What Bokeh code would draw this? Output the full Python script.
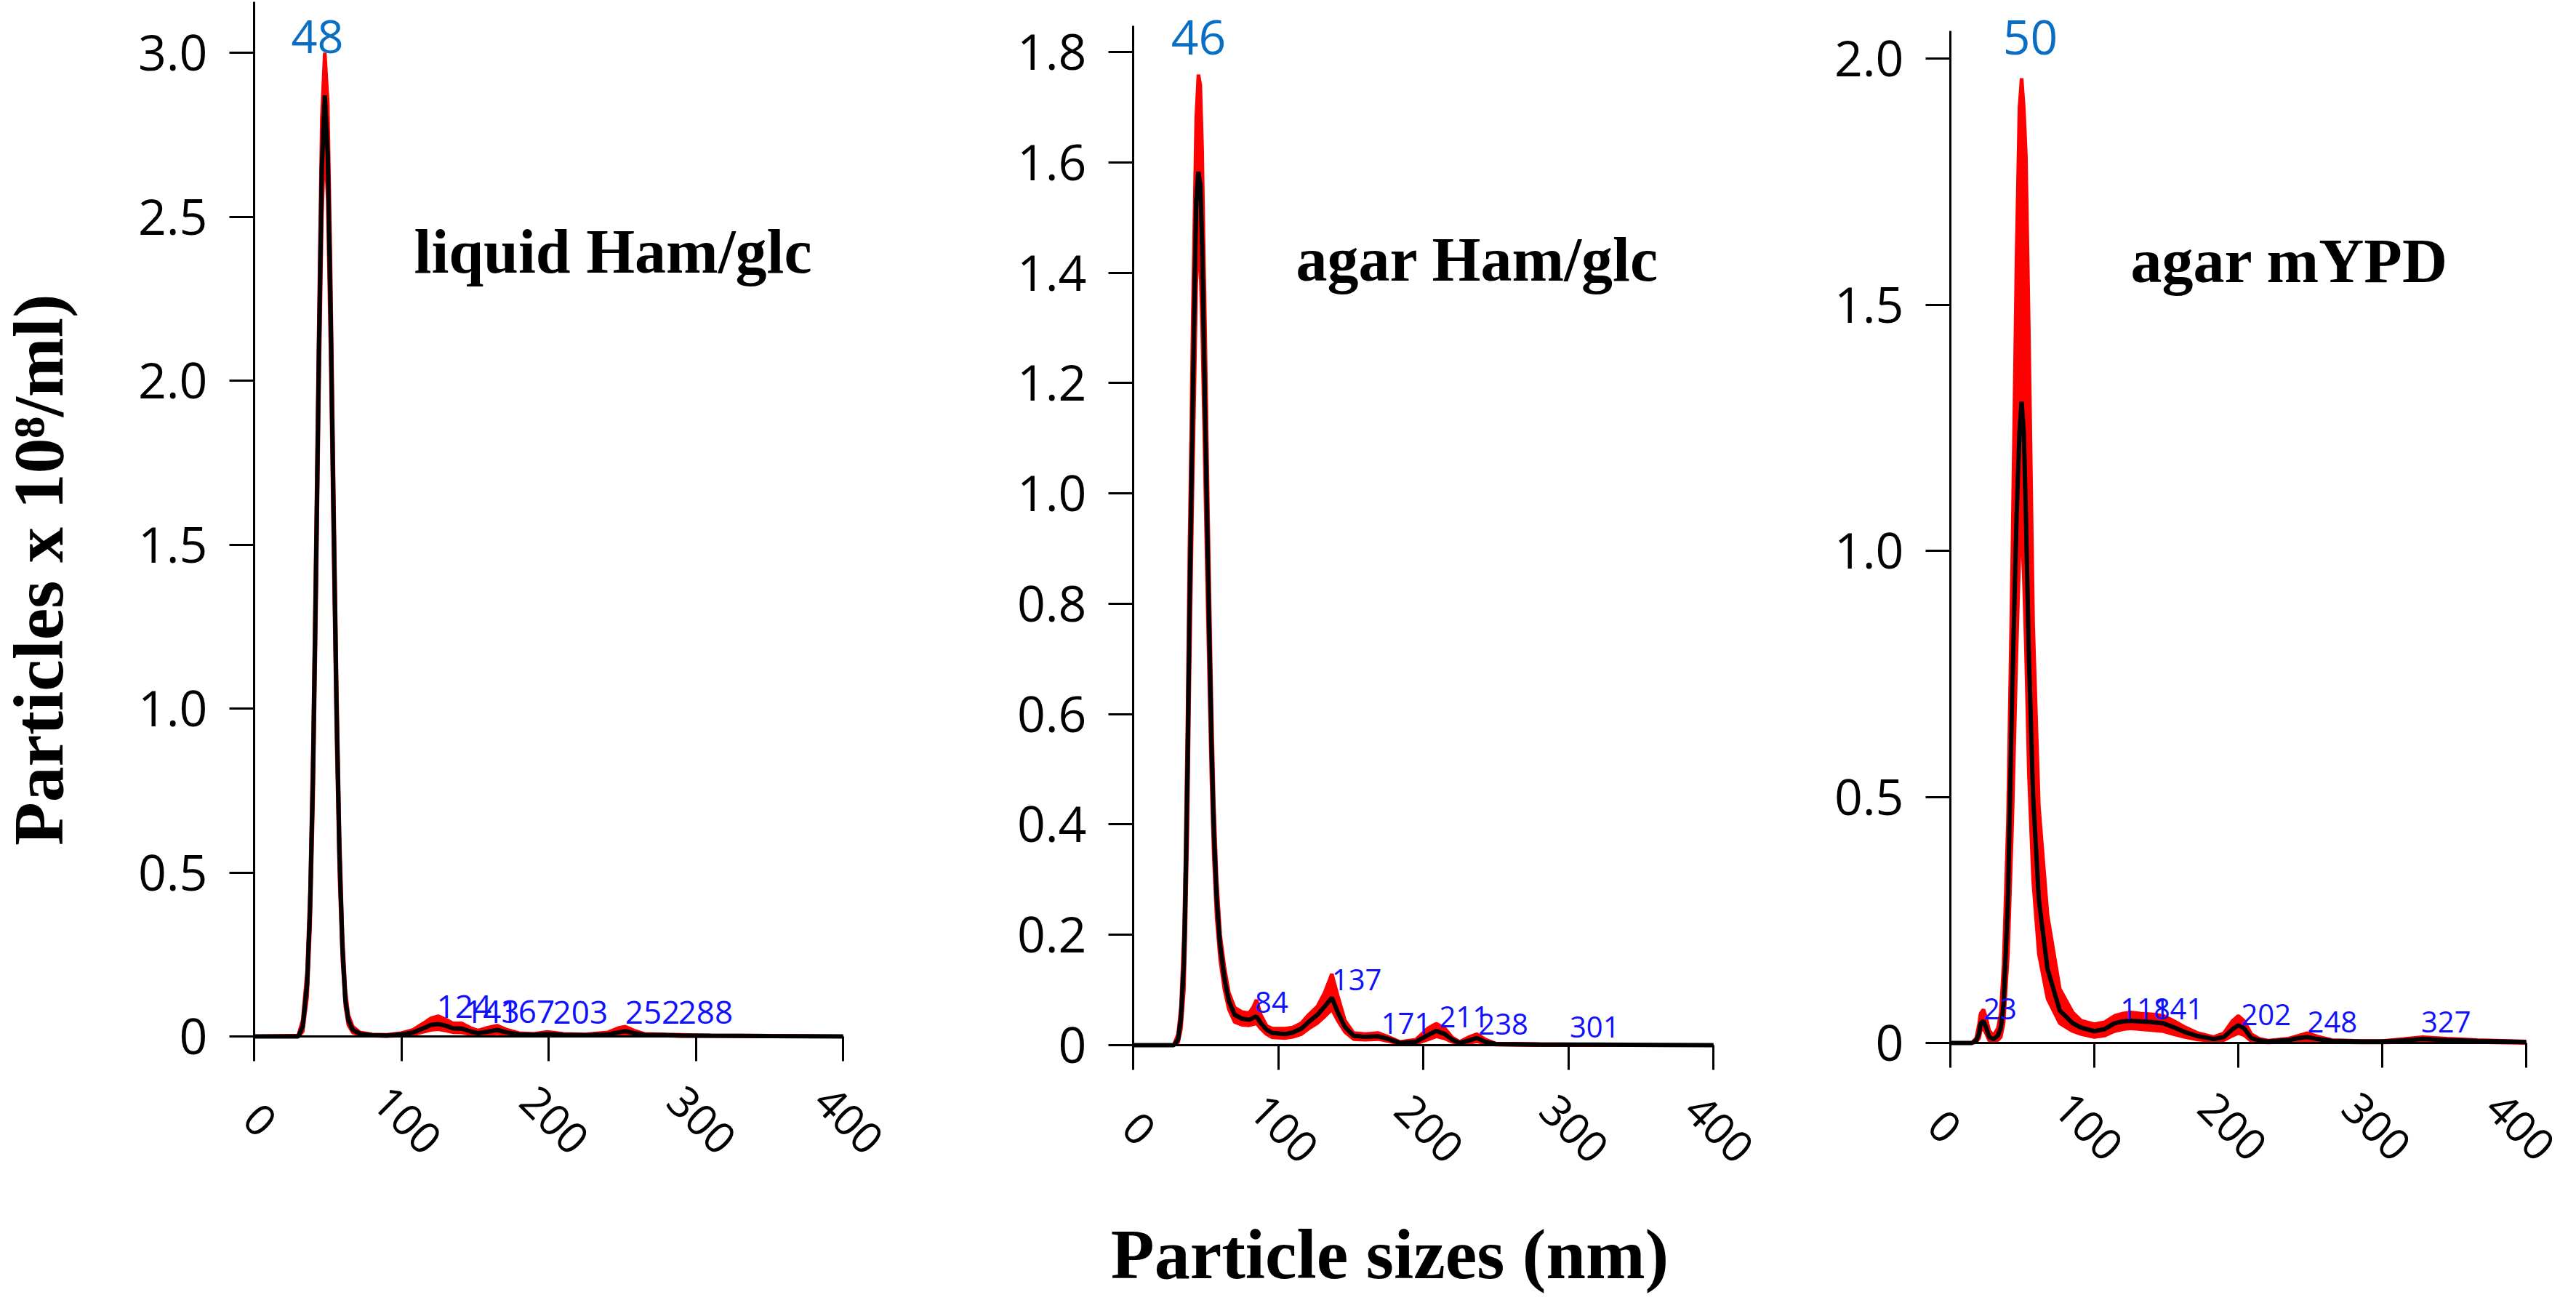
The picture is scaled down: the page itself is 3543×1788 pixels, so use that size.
import math
from bokeh.plotting import figure
from bokeh.models import Range1d, FixedTicker, Label
from bokeh.layouts import row
from bokeh.embed import file_html
from bokeh.resources import INLINE

# ---------------- data ----------------
x_ticks = [0, 100, 200, 300, 400]

# Panel 1: liquid Ham/glc
p1_title = "liquid Ham/glc"
p1_x = [0, 30, 33, 36, 38, 40, 42, 44, 46, 48, 50, 52, 54, 56, 58, 60, 62, 64, 67, 72, 80, 90, 100,
        108, 115, 120, 125, 130, 135, 141, 147, 152, 158, 165, 172, 180, 190, 199, 210, 225, 240,
        247, 252, 258, 265, 280, 290, 310, 350, 400]
p1_mean = [0, 0, 0.03, 0.16, 0.39, 0.8, 1.4, 2.08, 2.65, 2.87, 2.69, 2.2, 1.58, 1.0, 0.55, 0.27, 0.11,
           0.05, 0.02, 0.008, 0.004, 0.003, 0.006, 0.012, 0.025, 0.035, 0.038, 0.033, 0.025, 0.024,
           0.015, 0.01, 0.014, 0.02, 0.012, 0.006, 0.005, 0.008, 0.005, 0.004, 0.006, 0.012, 0.016,
           0.01, 0.005, 0.004, 0.003, 0.002, 0.001, 0]
p1_upper = [0, 0.003, 0.05, 0.2, 0.45, 0.9, 1.52, 2.2, 2.8, 3.0, 2.85, 2.33, 1.7, 1.1, 0.62, 0.31, 0.14,
            0.065, 0.03, 0.012, 0.006, 0.005, 0.01, 0.02, 0.04, 0.055, 0.062, 0.052, 0.04, 0.04,
            0.026, 0.018, 0.026, 0.033, 0.02, 0.01, 0.008, 0.014, 0.008, 0.006, 0.012, 0.025, 0.03,
            0.018, 0.008, 0.006, 0.005, 0.003, 0.002, 0]
p1_lower = [0, 0, 0.015, 0.12, 0.33, 0.7, 1.27, 1.95, 2.5, 2.75, 2.55, 2.06, 1.46, 0.9, 0.48, 0.23, 0.09,
            0.035, 0.012, 0.004, 0.002, 0.001, 0.003, 0.006, 0.014, 0.02, 0.022, 0.018, 0.013, 0.012,
            0.007, 0.004, 0.006, 0.01, 0.006, 0.003, 0.002, 0.004, 0.002, 0.002, 0.003, 0.005, 0.007,
            0.004, 0.002, 0.002, 0.001, 0.001, 0, 0]
p1_yticks = [0, 0.5, 1.0, 1.5, 2.0, 2.5, 3.0]
p1_main_peak = "48"
p1_peaks = [124, 143, 167, 203, 252, 288]
p1_peak_heights = [0.062, 0.047, 0.047, 0.044, 0.044, 0.044]

# Panel 2: agar Ham/glc
p2_title = "agar Ham/glc"
p2_x = [0, 28, 31, 33, 35, 36, 37.5, 38.8, 40, 41, 42.3, 43.5, 45, 46.3, 47.6, 48.6, 49.6, 51, 52.3, 54,
        55.6, 57.6, 60, 63, 66, 70, 75, 80, 83, 85, 88, 92, 96, 105, 110, 116, 121, 127, 132, 137, 141,
        146, 152, 160, 169, 175, 184, 195, 203, 209, 215, 220, 225, 231, 237, 243, 250, 280, 320, 400]
p2_mean = [0, 0, 0.01, 0.05, 0.15, 0.265, 0.5, 0.77, 0.98, 1.15, 1.35, 1.53, 1.583, 1.56, 1.45, 1.3,
           1.15, 0.95, 0.77, 0.55, 0.39, 0.265, 0.18, 0.12, 0.08, 0.055, 0.048, 0.046, 0.05, 0.052,
           0.04, 0.028, 0.022, 0.02, 0.023, 0.03, 0.042, 0.055, 0.07, 0.086, 0.06, 0.033, 0.017, 0.015,
           0.016, 0.012, 0.004, 0.006, 0.018, 0.026, 0.02, 0.01, 0.004, 0.008, 0.013, 0.006, 0.002,
           0.001, 0.001, 0]
p2_upper = [0, 0, 0.02, 0.07, 0.2, 0.33, 0.6, 0.9, 1.1, 1.3, 1.5, 1.68, 1.759, 1.74, 1.62, 1.45, 1.3,
            1.06, 0.86, 0.62, 0.44, 0.3, 0.2, 0.14, 0.095, 0.068, 0.06, 0.058, 0.07, 0.082, 0.055,
            0.035, 0.03, 0.03, 0.032, 0.04, 0.055, 0.07, 0.095, 0.129, 0.09, 0.045, 0.022, 0.02,
            0.022, 0.016, 0.006, 0.01, 0.03, 0.039, 0.03, 0.014, 0.006, 0.014, 0.02, 0.01, 0.003,
            0.002, 0.001, 0]
p2_lower = [0, 0, 0.005, 0.03, 0.1, 0.2, 0.4, 0.66, 0.86, 1.02, 1.2, 1.38, 1.45, 1.42, 1.3, 1.17, 1.03,
            0.84, 0.68, 0.48, 0.34, 0.23, 0.155, 0.1, 0.065, 0.042, 0.037, 0.036, 0.038, 0.04, 0.03,
            0.02, 0.014, 0.013, 0.015, 0.02, 0.03, 0.04, 0.052, 0.065, 0.045, 0.024, 0.011, 0.01,
            0.011, 0.008, 0.002, 0.003, 0.01, 0.016, 0.012, 0.006, 0.002, 0.004, 0.007, 0.003, 0.001,
            0, 0, 0]
p2_yticks = [0, 0.2, 0.4, 0.6, 0.8, 1.0, 1.2, 1.4, 1.6, 1.8]
p2_main_peak = "46"
p2_peaks = [84, 137, 171, 211, 238, 301]
p2_peak_heights = [0.062, 0.103, 0.024, 0.036, 0.022, 0.017]

# Panel 3: agar mYPD
p3_title = "agar mYPD"
p3_x = [0, 15, 18, 20, 21, 23, 25, 27, 30, 33, 35, 37, 40, 43, 46, 48, 49.5, 51, 52.5, 54.5, 57.5, 61.5,
        67.5, 76, 85, 91, 100, 107, 114, 120, 125, 132, 141, 148, 155, 163, 172, 183, 190, 196, 200,
        204, 209, 215, 221, 235, 242, 248, 255, 265, 285, 300, 315, 328, 345, 366, 400]
p3_mean = [0, 0, 0.005, 0.02, 0.04, 0.045, 0.03, 0.012, 0.008, 0.015, 0.03, 0.08, 0.29, 0.72, 1.07,
           1.24, 1.303, 1.24, 1.07, 0.79, 0.5, 0.29, 0.15, 0.066, 0.04, 0.031, 0.024, 0.028, 0.04,
           0.044, 0.045, 0.044, 0.042, 0.04, 0.032, 0.022, 0.014, 0.008, 0.012, 0.028, 0.036, 0.03,
           0.01, 0.005, 0.003, 0.006, 0.01, 0.012, 0.008, 0.004, 0.003, 0.003, 0.005, 0.008, 0.006,
           0.004, 0.002]
p3_upper = [0, 0, 0.01, 0.04, 0.06, 0.068, 0.05, 0.025, 0.015, 0.03, 0.06, 0.16, 0.45, 0.98, 1.6, 1.9,
            1.96, 1.9, 1.8, 1.45, 0.85, 0.48, 0.26, 0.11, 0.062, 0.045, 0.038, 0.042, 0.055, 0.06,
            0.062, 0.06, 0.058, 0.055, 0.045, 0.032, 0.02, 0.012, 0.02, 0.045, 0.055, 0.045, 0.018,
            0.008, 0.005, 0.009, 0.015, 0.02, 0.013, 0.006, 0.004, 0.004, 0.008, 0.012, 0.009, 0.006,
            0.003]
p3_lower = [0, 0, 0.002, 0.01, 0.025, 0.03, 0.018, 0.005, 0.003, 0.006, 0.012, 0.04, 0.18, 0.45, 0.8,
            1.0, 1.05, 0.95, 0.8, 0.55, 0.33, 0.18, 0.09, 0.04, 0.024, 0.018, 0.012, 0.015, 0.024,
            0.028, 0.03, 0.028, 0.026, 0.024, 0.018, 0.012, 0.007, 0.004, 0.006, 0.015, 0.02, 0.016,
            0.004, 0.002, 0.001, 0.003, 0.005, 0.006, 0.004, 0.002, 0.001, 0.001, 0.002, 0.004, 0.003,
            0.002, 0]
p3_yticks = [0, 0.5, 1.0, 1.5, 2.0]
p3_main_peak = "50"
p3_peaks = [23, 118, 141, 202, 248, 327]
p3_peak_heights = [0.052, 0.052, 0.052, 0.04, 0.025, 0.025]

y_title = "Particles  x 10\u2078/ml)"
x_title = "Particle sizes (nm)"

# ---------------- styling / geometry (page pixels) ----------------
SANS = "Open Sans"
SERIF = "Liberation Serif"
RED = "#ff0000"
MAIN_BLUE = "#0a6fc2"
SMALL_BLUE = "#1010ff"
MARGIN = 8
H = 1780
BASE_SHIFT = 0.3   # em; bokeh places an "alphabetic" anchor about this far above the drawn baseline
AXIS_TITLE_SIZE = 98


def tick_text(v):
    return "0" if v == 0 else f"{v:.1f}"


def make_panel(canvas_left, width, x0_px, x400_px, y0_px, ytick_top, ytick_top_px, axis_top_px,
               yticks, xs, mean, upper, lower, title, title_px, main_text, main_px, main_size,
               peaks, peak_heights, peak_size, xlab_dx):
    sx = (x400_px - x0_px) / 400.0
    sy = (y0_px - ytick_top_px) / ytick_top
    canvas_right = canvas_left + width
    x_start = (canvas_left - x0_px) / sx
    x_end = (canvas_right - x0_px) / sx
    y_start = -(MARGIN + H - y0_px) / sy
    y_end = (y0_px - MARGIN) / sy

    def dx(px):
        return (px - x0_px) / sx

    def dy(py):
        return (y0_px - py) / sy

    def base_y(py, size):
        return dy(py - BASE_SHIFT * size)

    p = figure(width=width, height=H, x_range=Range1d(x_start, x_end),
               y_range=Range1d(y_start, y_end), output_backend="svg", toolbar_location=None,
               title=None, min_border_left=0, min_border_right=0, min_border_top=0,
               min_border_bottom=0)
    p.outline_line_color = None
    p.xgrid.visible = False
    p.ygrid.visible = False
    p.background_fill_color = "white"
    p.border_fill_color = "white"

    p.varea(x=xs, y1=lower, y2=upper, fill_color=RED, fill_alpha=1.0)
    p.line(xs, upper, line_color=RED, line_width=5)
    p.line(xs, lower, line_color=RED, line_width=5)
    p.line(xs, mean, line_color="black", line_width=6)

    for ax in (p.xaxis[0], p.yaxis[0]):
        ax.fixed_location = 0
        ax.axis_line_color = "black"
        ax.axis_line_width = 3
        ax.major_tick_line_color = "black"
        ax.major_tick_line_width = 3
        ax.major_tick_out = 34
        ax.major_tick_in = 0
        ax.minor_tick_out = 0
        ax.minor_tick_in = 0
        ax.major_label_text_font = SANS
        ax.major_label_text_color = "black"

    p.xaxis.bounds = (0, 400)
    p.xaxis.ticker = FixedTicker(ticks=x_ticks)
    p.xaxis.major_label_overrides = {t: "" for t in x_ticks}
    p.xaxis.major_label_text_font_size = "1px"
    p.xaxis.major_label_standoff = 0

    p.yaxis.bounds = (0, dy(axis_top_px))
    p.yaxis.ticker = FixedTicker(ticks=yticks)
    p.yaxis.major_label_overrides = {t: tick_text(t) for t in yticks}
    p.yaxis.major_label_text_font_size = "68px"
    p.yaxis.major_label_standoff = 30

    # rotated x tick labels
    for t in x_ticks:
        p.add_layout(Label(x=t + xlab_dx / sx, y=dy(y0_px + 115), text=str(t),
                           text_font=SANS, text_font_size="60px", text_color="black",
                           angle=-math.pi / 4, text_align="center", text_baseline="middle"))

    p.add_layout(Label(x=dx(title_px[0]), y=base_y(title_px[1], 86), text=title, text_font=SERIF,
                       text_font_style="bold", text_font_size="86px", text_color="black",
                       text_align="left", text_baseline="alphabetic"))
    p.add_layout(Label(x=dx(main_px[0]), y=base_y(main_px[1], main_size), text=main_text,
                       text_font=SANS, text_font_size=f"{main_size}px", text_color=MAIN_BLUE,
                       text_align="center", text_baseline="alphabetic"))
    for pk, hy in zip(peaks, peak_heights):
        p.add_layout(Label(x=pk, y=hy + BASE_SHIFT * peak_size / sy, text=str(pk), text_font=SANS,
                           text_font_size=f"{peak_size}px", text_color=SMALL_BLUE,
                           text_align="left", text_baseline="alphabetic"))
    return p, dx, dy, base_y


p1, dx1, dy1, by1 = make_panel(8, 1358, 357, 1167, 1433, 3.0, 80, 10, p1_yticks,
                               p1_x, p1_mean, p1_upper, p1_lower, p1_title, (577, 379),
                               p1_main_peak, (444, 77), 63, p1_peaks, p1_peak_heights, 44, 8)
p2, dx2, dy2, by2 = make_panel(1366, 1154, 1566, 2364, 1445, 1.8, 79, 43, p2_yticks,
                               p2_x, p2_mean, p2_upper, p2_lower, p2_title, (1790, 390),
                               p2_main_peak, (1656, 79), 66, p2_peaks, p2_peak_heights, 40, 8)
p3, dx3, dy3, by3 = make_panel(2520, 1023, 2690, 3482, 1442, 2.0, 88, 50, p3_yticks,
                               p3_x, p3_mean, p3_upper, p3_lower, p3_title, (2938, 392),
                               p3_main_peak, (2800, 79), 66, p3_peaks, p3_peak_heights, 40, -8)

# shared axis titles
p1.add_layout(Label(x=dx1(60), y=dy1(779), text=y_title, text_font=SERIF, text_font_style="bold",
                    text_font_size=f"{AXIS_TITLE_SIZE}px", text_color="black", angle=math.pi / 2,
                    text_align="center", text_baseline="middle"))
p2.add_layout(Label(x=dx2(1919), y=by2(1762, AXIS_TITLE_SIZE), text=x_title, text_font=SERIF,
                    text_font_style="bold", text_font_size=f"{AXIS_TITLE_SIZE}px",
                    text_color="black", text_align="center", text_baseline="alphabetic"))

layout = row(p1, p2, p3)
open("out.html", "w").write(file_html(layout, INLINE))
